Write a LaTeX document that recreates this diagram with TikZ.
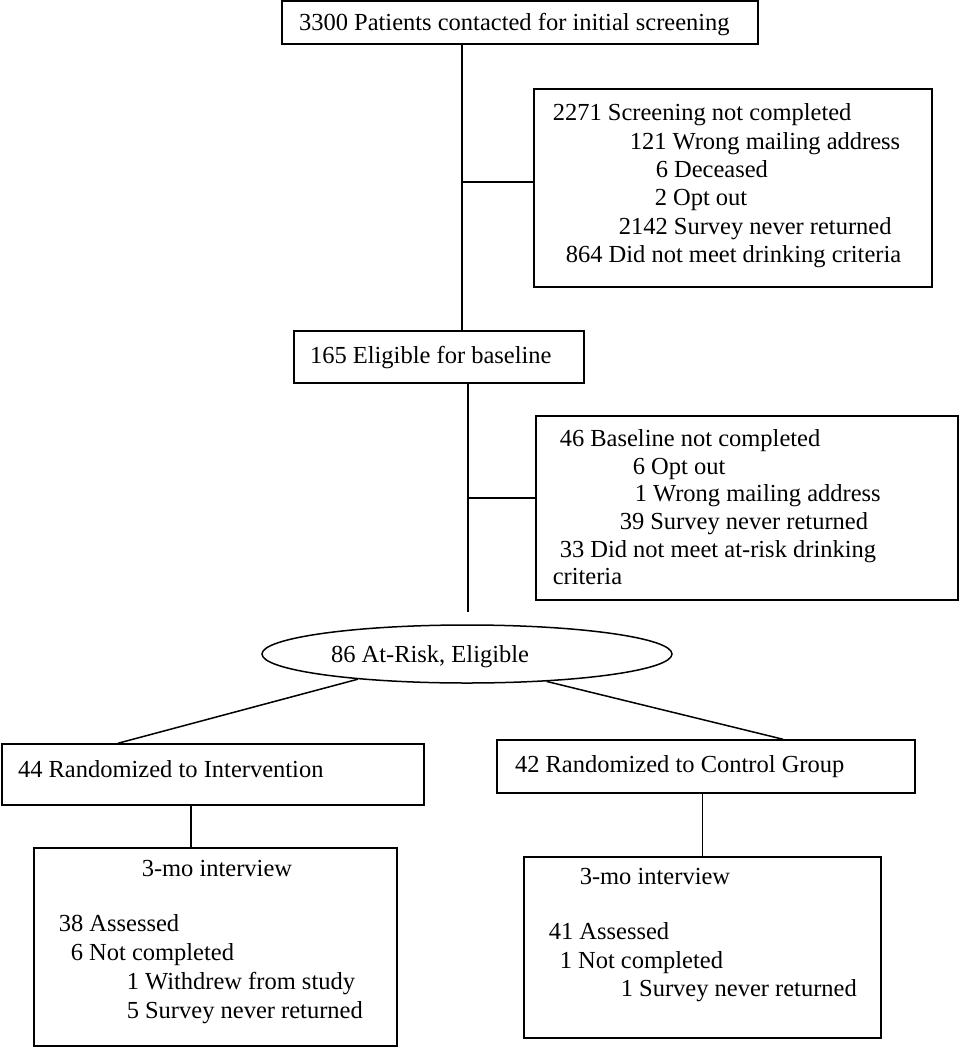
\documentclass[tikz,border=0pt]{standalone}
\usepackage{fontspec}
\setmainfont{Liberation Serif}
\usetikzlibrary{shapes.geometric}

\begin{document}
\begin{tikzpicture}[x=1pt, y=-1pt, line width=1.5pt,
		box/.style={draw, rectangle, inner sep=0pt},
		onebox/.style={draw, rectangle, inner ysep=0pt, align=flush left, text height=17pt, text depth=5pt, font=\fontsize{24.5}{28.5}\selectfont},
		list/.style={anchor=north west, inner sep=0pt, align=left, execute at begin node=\strut}]
	\useasboundingbox (0,0) rectangle (959,1050);
	
	\node[onebox, inner xsep=17pt, text width=442pt, minimum height=43pt, text depth=2pt] (screening) at (520,22.5) {3300 Patients contacted for initial screening};
	
	\node[box, minimum width=398pt, minimum height=198pt] (notscreened) at (733,188) {};
	\node[list, font=\fontsize{24.5}{28.4}\selectfont] (notscreenedtxt) at (552,103) {2271 Screening not completed\\
		\hspace*{77pt}121 Wrong mailing address\\
		\hspace*{103pt}6 Deceased\\
		\hspace*{102pt}2 Opt out\\
		\hspace*{66pt}2142 Survey never returned\\
		\hspace*{13pt}864 Did not meet drinking criteria};
	
	\node[onebox, inner xsep=16pt, text width=258pt, minimum height=52pt] (eligible) at (439,357) {165 Eligible for baseline};
	
	\node[box, minimum width=422pt, minimum height=184pt] (notbaseline) at (747,508) {};
	\node[list, font=\fontsize{24.5}{27.6}\selectfont] (notbaselinetxt) at (552,429) {\hspace*{7pt}46 Baseline not completed\\
		\hspace*{80pt}6 Opt out\\
		\hspace*{82pt}1 Wrong mailing address\\
		\hspace*{67pt}39 Survey never returned\\
		\hspace*{7pt}33 Did not meet at-risk drinking\\
		criteria};
	
	% trunk with the two side branches
	\coordinate (split1) at (462,182);
	\draw (split1 |- screening.south) -- (split1 |- eligible.north);
	\draw (split1) -- (split1 -| notscreened.west);
	\coordinate (split2) at (468,498);
	\coordinate (trunkend) at (468,612);
	\draw (split2 |- eligible.south) -- (trunkend);
	\draw (split2) -- (split2 -| notbaseline.west);
	
	\node[draw, ellipse, minimum width=410pt, minimum height=58pt, inner sep=0pt, text width=272pt, align=flush left, text height=17pt, text depth=0pt, font=\fontsize{24.5}{28.5}\selectfont] (atrisk) at (467,654) {86 At-Risk, Eligible};
	
	\node[onebox, inner xsep=16pt, text width=390pt, minimum height=61pt, text depth=12pt] (intervention) at (213,774.5) {44 Randomized to Intervention};
	\node[onebox, inner xsep=18pt, text width=382pt, minimum height=53pt, text depth=6pt] (control) at (706,766.5) {42 Randomized to Control Group};
	
	\draw (atrisk.193) -- ([xshift=-95pt]intervention.north);
	\draw (atrisk.341) -- ([xshift=77pt]control.north);
	
	\node[box, minimum width=363pt, minimum height=198pt] (followint) at (215.5,947) {};
	\node[list, font=\fontsize{24.5}{29}\selectfont] (followinttxt) at (58,859.7) {\hspace*{83pt}3-mo interview\\[26pt]
		38 Assessed\\
		\hspace*{12pt}6 Not completed\\
		\hspace*{68pt}1 Withdrew from study\\
		\hspace*{68pt}5 Survey never returned};
	
	\node[box, minimum width=357pt, minimum height=181pt] (followctl) at (702.5,947.5) {};
	\node[list, font=\fontsize{24.5}{28.5}\selectfont] (followctltxt) at (548,868) {\hspace*{31pt}3-mo interview\\[26.5pt]
		41 Assessed\\
		\hspace*{11pt}1 Not completed\\
		\hspace*{72pt}1 Survey never returned};
	
	\coordinate (intdrop) at ([xshift=-22pt]intervention.south);
	\draw (intdrop) -- (intdrop |- followint.north);
	\draw (control.south -| followctl.north) -- (followctl.north);
\end{tikzpicture}
\end{document}
